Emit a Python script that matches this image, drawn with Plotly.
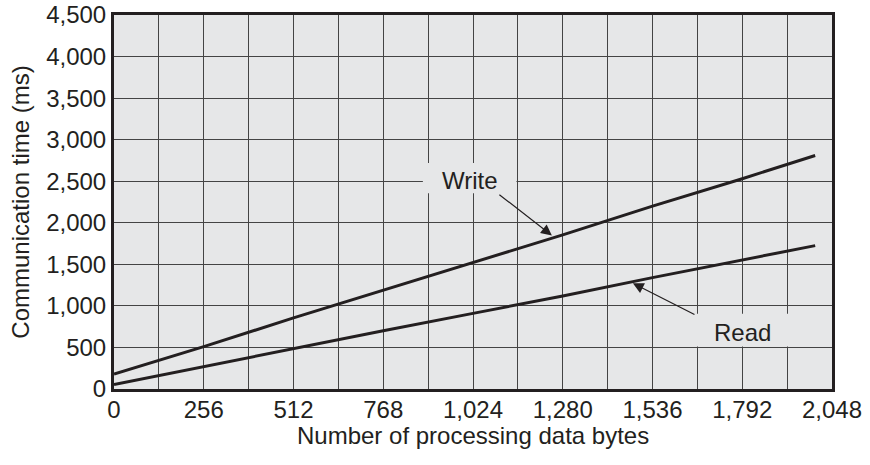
import plotly.graph_objects as go

# ---- data ----
bytes_x = [0, 256, 512, 768, 1024, 1280, 1536, 1792, 2000]
write_ms = [180, 510, 855, 1190, 1520, 1855, 2200, 2530, 2810]
read_ms = [55, 270, 490, 700, 910, 1120, 1340, 1550, 1725]
x_ticks = [0, 256, 512, 768, 1024, 1280, 1536, 1792, 2048]
x_tick_labels = ["0", "256", "512", "768", "1,024", "1,280", "1,536", "1,792", "2,048"]
y_ticks = [0, 500, 1000, 1500, 2000, 2500, 3000, 3500, 4000, 4500]
y_tick_labels = ["0", "500", "1,000", "1,500", "2,000", "2,500", "3,000", "3,500", "4,000", "4,500"]

INK = "#231f20"
GRID = "#444444"
BG = "#e6e7e8"
FONT = "Liberation Sans"

fig = go.Figure()
fig.add_trace(go.Scatter(x=bytes_x, y=write_ms, mode="lines", name="Write",
                         line=dict(color=INK, width=3), showlegend=False))
fig.add_trace(go.Scatter(x=bytes_x, y=read_ms, mode="lines", name="Read",
                         line=dict(color=INK, width=3), showlegend=False))

# label background boxes (cover the grid, beneath traces)
fig.add_shape(type="rect", xref="x", yref="y", x0=881, x1=1148, y0=2355, y1=2720,
              fillcolor=BG, line=dict(width=0), layer="between")
fig.add_shape(type="rect", xref="x", yref="y", x0=1629, x1=2046, y0=510, y1=905,
              fillcolor=BG, line=dict(width=0), layer="between")

# labels
fig.add_annotation(x=1015, y=2508, text="Write", showarrow=False,
                   font=dict(family=FONT, size=24, color=INK))
fig.add_annotation(x=1794, y=680, text="Read", showarrow=False,
                   font=dict(family=FONT, size=24, color=INK))
# arrows
fig.add_annotation(x=1249, y=1848, ax=1095, ay=2352, axref="x", ayref="y",
                   text="", showarrow=True, arrowhead=2, arrowsize=1.8,
                   arrowwidth=1.2, arrowcolor=INK, standoff=0)
fig.add_annotation(x=1480, y=1272, ax=1660, ay=888, axref="x", ayref="y",
                   text="", showarrow=True, arrowhead=2, arrowsize=1.8,
                   arrowwidth=1.2, arrowcolor=INK, standoff=0)

# x-axis title as annotation to control its distance from tick labels
fig.add_annotation(xref="paper", yref="paper", x=0.5, y=0, yanchor="middle",
                   yshift=-46, text="Number of processing data bytes", showarrow=False,
                   font=dict(family=FONT, size=24, color=INK))

fig.update_xaxes(range=[0, 2048], tickmode="array", tickvals=x_ticks, ticktext=x_tick_labels,
                 showgrid=True, gridcolor=GRID, gridwidth=1.4,
                 minor=dict(dtick=128, tick0=0, showgrid=True, gridcolor=GRID, gridwidth=1.4),
                 showline=True, linecolor=INK, linewidth=3, mirror=True,
                 ticks="", zeroline=False, automargin=False, ticklabeloverflow="allow",
                 ticklabelstandoff=-3,
                 tickfont=dict(family=FONT, size=24, color=INK))
fig.update_yaxes(range=[0, 4500], tickmode="array", tickvals=y_ticks, ticktext=y_tick_labels,
                 showgrid=True, gridcolor=GRID, gridwidth=1.4,
                 showline=True, linecolor=INK, linewidth=3, mirror=True,
                 ticks="", zeroline=False, automargin=False, ticklabeloverflow="allow",
                 tickfont=dict(family=FONT, size=24, color=INK),
                 title=dict(text="Communication time (ms)",
                            font=dict(family=FONT, size=24, color=INK), standoff=10))

fig.update_layout(width=870, height=465, paper_bgcolor="white", plot_bgcolor=BG,
                  margin=dict(l=114, r=38, t=15, b=76),
                  font=dict(family=FONT, color=INK))

fig.write_html("out.html", config={"displayModeBar": False},
               post_script="document.body.style.margin='0';")
